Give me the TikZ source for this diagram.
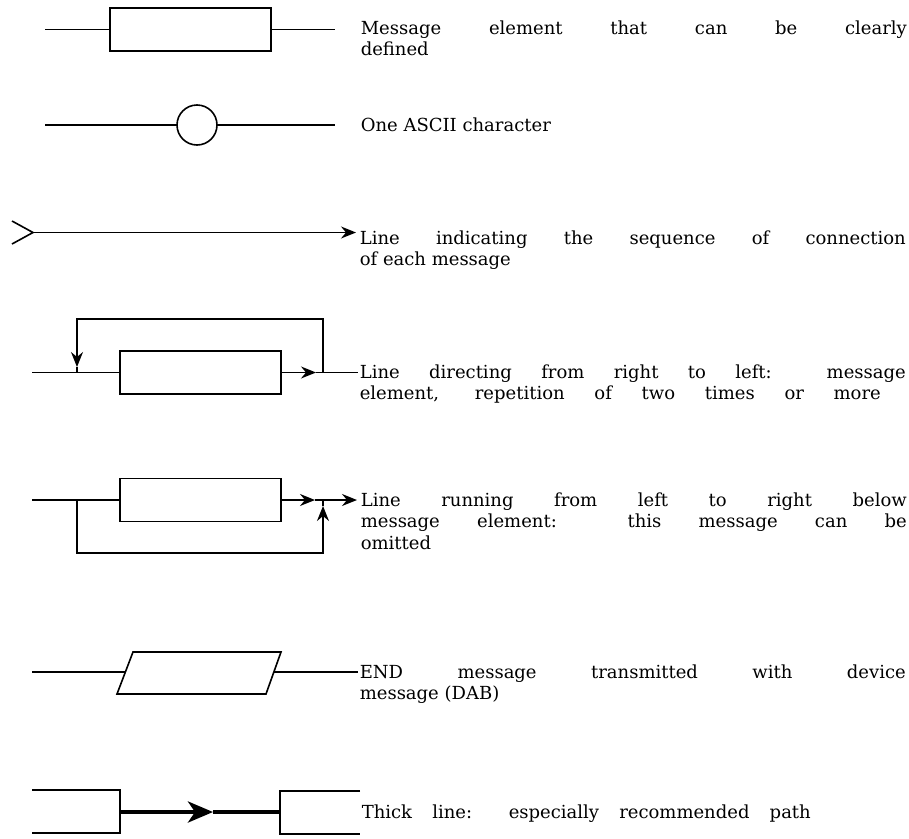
\documentclass[tikz,border=0pt]{standalone}
\usepackage{fontspec}
\setmainfont{DejaVu Serif}
\usetikzlibrary{arrows.meta}
\begin{document}
\begin{tikzpicture}[x=1pt,y=-1pt, line width=1.6pt, line join=miter,
  elem/.style={draw, minimum width=161pt, minimum height=43pt, inner sep=0pt, outer sep=0pt},
  lbl/.style={anchor=base west, text width=546pt, align=justify, inner sep=0pt,
    font=\fontsize{18}{21.5}\selectfont},
  head/.style={-{Stealth[length=15pt,width=12pt,inset=5pt]}},
  bighead/.style={-{Stealth[length=25pt,width=21pt,inset=7pt]}},
  thickline/.style={line width=4pt},
  ]
\useasboundingbox (0,0) rectangle (909,838);

% Row 1
\node[elem] (b1) at (190.5,29.5) {};
\coordinate (l1) at (45,29.5);
\coordinate (r1) at (335,29.5);
\draw (l1) -- (b1.west);
\draw (b1.east) -- (r1);
\node[lbl] (t1) at (360,34) {Message element that can be clearly\linebreak defined};

% Row 2
\node[draw, circle, minimum size=40pt, inner sep=0pt, outer sep=0pt] (c2) at (197,125) {};
\coordinate (l2) at (45,125);
\coordinate (r2) at (335,125);
\draw (l2) -- (c2.west);
\draw (c2.east) -- (r2);
\node[lbl] (t2) at (360,131) {One ASCII character};

% Row 3
\coordinate (v3) at (33,232.5);
\coordinate (u3) at (12,221);
\coordinate (d3) at (12,244);
\coordinate (e3) at (356,232.5);
\draw (u3) -- (v3) -- (d3);
\draw[head] (v3) -- (e3);
\node[lbl] (t3) at (359,244) {Line indicating the sequence of connection\linebreak of each message};

% Row 4
\node[elem] (b4) at (200.5,372.5) {};
\coordinate (l4) at (32,372.5);
\coordinate (jL4) at (77,372.5);
\coordinate (aL4) at (77,367);
\coordinate (tL4) at (77,319);
\coordinate (tR4) at (323,319);
\coordinate (jR4) at (323,372.5);
\coordinate (aR4) at (316,372.5);
\coordinate (e4) at (358,372.5);
\draw (l4) -- (b4.west);
\draw[head] (jR4) -- (tR4) -- (tL4) -- (aL4);
\draw (aL4) -- (jL4);
\draw[head] (b4.east) -- (aR4);
\draw (aR4) -- (e4);
\node[lbl] (t4) at (359,378) {Line directing from right to left: message\linebreak element, repetition of two times or more\hspace*{25pt}\linebreak\mbox{}};

% Row 5
\node[elem] (b5) at (200.5,500) {};
\coordinate (l5) at (32,500);
\coordinate (jL5) at (77,500);
\coordinate (bL5) at (77,553);
\coordinate (bR5) at (323,553);
\coordinate (aU5) at (323,506);
\coordinate (jR5) at (323,500);
\coordinate (aR5) at (315,500);
\coordinate (e5) at (357,500);
\draw (l5) -- (b5.west);
\draw[head] (jL5) -- (bL5) -- (bR5) -- (aU5);
\draw (aU5) -- (jR5);
\draw[head] (b5.east) -- (aR5);
\draw[head] (aR5) -- (e5);
\node[lbl] (t5) at (360,506) {Line running from left to right below\linebreak message element: this message can be\linebreak omitted};

% Row 6
\coordinate (p1) at (133,652);
\coordinate (p2) at (281,652);
\coordinate (p3) at (266,694);
\coordinate (p4) at (117,694);
\coordinate (m6l) at (125.4,672);
\coordinate (m6r) at (273.9,672);
\coordinate (l6) at (32,672);
\coordinate (r6) at (358,672);
\draw (p1) -- (p2) -- (p3) -- (p4) -- cycle;
\draw (l6) -- (m6l);
\draw (m6r) -- (r6);
\node[lbl] (t6) at (359,678) {END message transmitted with device\linebreak message (DAB)};

% Row 7
\coordinate (a1) at (32,790);
\coordinate (a2) at (120,790);
\coordinate (a3) at (120,833);
\coordinate (a4) at (32,833);
\coordinate (c1) at (360,791);
\coordinate (c2r) at (280,791);
\coordinate (c3) at (280,834);
\coordinate (c4) at (360,834);
\coordinate (s7) at (120,812);
\coordinate (m7) at (213,812);
\coordinate (e7) at (280,812);
\draw (a1) -- (a2) -- (a3) -- (a4);
\draw (c1) -- (c2r) -- (c3) -- (c4);
\draw[thickline, bighead] (s7) -- (m7);
\draw[thickline] (m7) -- (e7);
\node[lbl] (t7) at (361,818) {Thick line: especially recommended path\hspace*{97pt}\linebreak\mbox{}};
\end{tikzpicture}
\end{document}
